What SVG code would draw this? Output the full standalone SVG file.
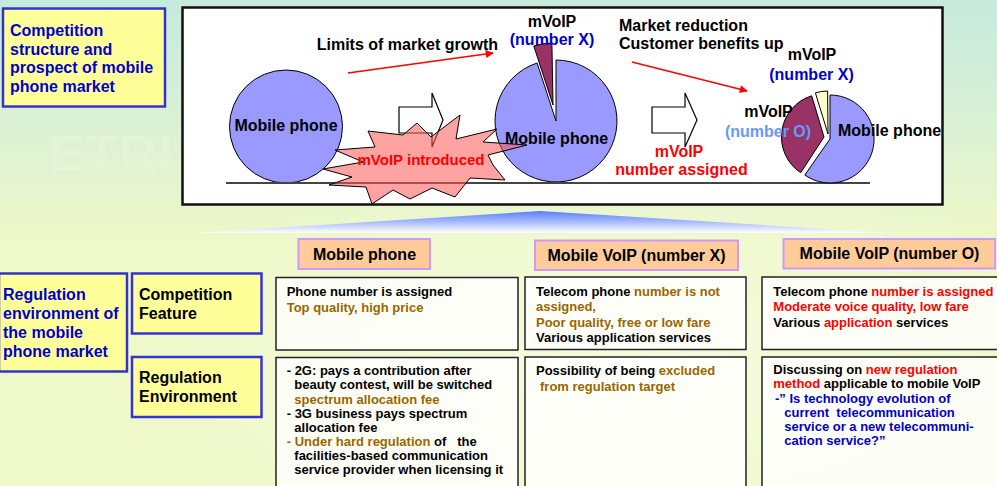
<svg xmlns="http://www.w3.org/2000/svg" width="997" height="486" viewBox="0 0 997 486">
  <defs>
    <linearGradient id="bg" x1="0" y1="0" x2="0" y2="1">
      <stop offset="0" stop-color="#c6eadc"/>
      <stop offset="0.23" stop-color="#d9f0d6"/>
      <stop offset="0.5" stop-color="#eef8c8"/>
      <stop offset="1" stop-color="#eff9c8"/>
    </linearGradient>
    <linearGradient id="beam" x1="0" y1="0" x2="0" y2="1">
      <stop offset="0" stop-color="#5a7cff"/>
      <stop offset="0.5" stop-color="#a9bbff"/>
      <stop offset="1" stop-color="#ffffff" stop-opacity="0.9"/>
    </linearGradient>
    <radialGradient id="glow" cx="0.5" cy="0.5" r="0.5">
      <stop offset="0" stop-color="#ffffff" stop-opacity="0.45"/>
      <stop offset="1" stop-color="#ffffff" stop-opacity="0"/>
    </radialGradient>
    <marker id="redArrow" viewBox="0 0 10 10" refX="9" refY="5" markerUnits="userSpaceOnUse" markerWidth="10" markerHeight="8" orient="auto">
      <path d="M0,0 L10,5 L0,10 Z" fill="#ff0000"/>
    </marker>
    <style>
      text { font-family: "Liberation Sans", Arial, sans-serif; font-weight: bold; white-space: pre; }
      .t16 { font-size: 16px; }
      .t13 { font-size: 13px; }
      .blk { fill: #000000; }
      .blu { fill: #0000cc; }
      .lblu { fill: #6699ff; }
      .red { fill: #ff0000; }
      .gold { fill: #996600; }
      .lbox { fill: #ffff99; stroke: #3333cc; stroke-width: 2.5; }
      .hdr { fill: #ffcc99; stroke: #cc99ff; stroke-width: 2; }
      .cell { fill: #ffffff; fill-opacity: 0.8; stroke: #222222; stroke-width: 1.5; }
      .pie { stroke: #000000; stroke-width: 1; }
      .barrow { fill: #ffffff; stroke: #000000; stroke-width: 1.2; }
      .conn { stroke: #ff0000; stroke-width: 1.5; fill: none; }
    </style>
  </defs>

  <!-- background -->
  <rect x="0" y="0" width="997" height="486" fill="url(#bg)"/>
  <ellipse cx="620" cy="370" rx="520" ry="200" fill="url(#glow)"/>
  <text x="48" y="171" font-size="50" fill="#ffffff" fill-opacity="0.15" textLength="125" lengthAdjust="spacingAndGlyphs">ETRI</text>

  <!-- left label boxes -->
  <g id="label-competition-structure">
    <rect class="lbox" x="3" y="8.5" width="162" height="98"/>
    <text class="t16 blu" x="10" y="36">Competition</text>
    <text class="t16 blu" x="10" y="54.7">structure and</text>
    <text class="t16 blu" x="10" y="73.4">prospect of mobile</text>
    <text class="t16 blu" x="10" y="92.2">phone market</text>
  </g>

  <!-- top panel -->
  <g id="market-panel">
    <rect x="182.5" y="7.5" width="760" height="197" fill="#ffffff" stroke="#111111" stroke-width="2.5"/>
  </g>

  <g id="pie-mobile-only">
    <circle class="pie" cx="286" cy="126.5" r="56.5" fill="#9999ff"/>
    <text class="t16 blk" x="286" y="131" text-anchor="middle">Mobile phone</text>
  </g>

  <g id="block-arrow-1">
    <path class="barrow" d="M399,107 L432,107 L432,93 L443,120 L432,147 L432,133 L399,133 Z"/>
  </g>

  <g id="pie-mvoip-x">
    <path class="pie" d="M556,121 L556,60 A61,61 0 1 1 537.1,63 Z" fill="#9999ff"/>
    <path class="pie" d="M553,105 L533.8,46 A62,62 0 0 1 551.9,43 Z" fill="#993366"/>
  </g>

  <line x1="226" y1="183" x2="870" y2="183" stroke="#444444" stroke-width="2"/>

  <g id="burst-mvoip-introduced">
    <path d="M335,150 L375,147 L368,131 L403,135 L417,123 L431,137 L460,115 L456,139 L497,129 L483,142 L527,145 L488,155 L493,165 L505,180 L470,178 L455,197 L432,188 L410,199 L393,190 L372,204 L366,187 L329,185 L352,177 L323,169 L363,162 Z"
          fill="#ff5555" fill-opacity="0.55" stroke="#000000" stroke-width="1"/>
    <text x="421" y="165" font-size="15" text-anchor="middle" class="red">mVoIP introduced</text>
  </g>

  <text class="t16 blk" x="505" y="143.5">Mobile phone</text>
  <text class="t16 blk" x="552" y="26.5" text-anchor="middle">mVoIP</text>
  <text class="t16 blu" x="552" y="44.5" text-anchor="middle">(number X)</text>
  <text class="t16 blk" x="316.7" y="50">Limits of market growth</text>

  <g id="block-arrow-2">
    <path class="barrow" d="M652,107 L685,107 L685,93 L697,120 L685,147 L685,133 L652,133 Z"/>
    <text class="t16 red" x="679" y="157.3" text-anchor="middle">mVoIP</text>
    <text class="t16 red" x="681.5" y="175" text-anchor="middle">number assigned</text>
  </g>

  <text class="t16 blk" x="619" y="31">Market reduction</text>
  <text class="t16 blk" x="619" y="49.3">Customer benefits up</text>

  <g id="pie-mvoip-o">
    <path class="pie" d="M830,139 L830,95 A44,44 0 1 1 804.8,175 Z" fill="#9999ff"/>
    <path class="pie" d="M824,137 L800.7,172.7 A43,43 0 0 1 811.7,95.8 Z" fill="#993366"/>
    <path class="pie" d="M828,134 L815.4,92.9 A43,43 0 0 1 827.6,91 Z" fill="#ffffcc"/>
    <text class="t16 blk" x="838" y="136">Mobile phone</text>
    <text class="t16 blk" x="812" y="60" text-anchor="middle">mVoIP</text>
    <text class="t16 blu" x="811.5" y="80" text-anchor="middle">(number X)</text>
    <text class="t16 blk" x="768.5" y="117.3" text-anchor="middle">mVoIP</text>
    <text class="t16 lblu" x="768" y="137.3" text-anchor="middle">(number O)</text>
  </g>

  <!-- connectors -->
  <g id="connectors">
    <line class="conn" x1="348" y1="73" x2="493" y2="53" marker-end="url(#redArrow)"/>
    <line class="conn" x1="632" y1="62" x2="747" y2="91" marker-end="url(#redArrow)"/>
  </g>

  <!-- light beam -->
  <polygon points="540,211 891,233 195,233" fill="url(#beam)"/>

  <!-- lower section -->
  <g id="label-regulation-environment">
    <rect class="lbox" x="-1" y="273.5" width="128" height="98"/>
    <text class="t16 blu" x="3" y="300">Regulation</text>
    <text class="t16 blu" x="3" y="319">environment of</text>
    <text class="t16 blu" x="3" y="338">the mobile</text>
    <text class="t16 blu" x="3" y="357">phone market</text>
  </g>

  <g id="row-competition-feature">
    <rect class="lbox" x="132" y="273.5" width="129.5" height="60" style="stroke:#3333dd"/>
    <text class="t16 blk" x="139" y="300">Competition</text>
    <text class="t16 blk" x="139" y="318.5">Feature</text>
  </g>

  <g id="row-regulation-environment">
    <rect class="lbox" x="132" y="357" width="129.5" height="60" style="stroke:#3333dd"/>
    <text class="t16 blk" x="139" y="383.3">Regulation</text>
    <text class="t16 blk" x="139" y="401.7">Environment</text>
  </g>

  <g id="header-mobile-phone">
    <rect class="hdr" x="298.5" y="239" width="131.5" height="30"/>
    <text class="t16 blk" x="364.5" y="259.5" text-anchor="middle">Mobile phone</text>
  </g>
  <g id="header-mvoip-x">
    <rect class="hdr" x="535" y="240.5" width="203" height="29.5"/>
    <text class="t16 blk" x="636.5" y="260.5" text-anchor="middle">Mobile VoIP (number X)</text>
  </g>
  <g id="header-mvoip-o">
    <rect class="hdr" x="783.5" y="239" width="211.5" height="29.5"/>
    <text class="t16 blk" x="889.5" y="259" text-anchor="middle">Mobile VoIP (number O)</text>
  </g>

  <g id="cell-mobile-competition">
    <rect class="cell" x="276" y="277.5" width="242" height="72.5"/>
    <text class="t13 blk" x="286.7" y="295.5">Phone number is assigned</text>
    <text class="t13 gold" x="286.7" y="311.7">Top quality, high price</text>
  </g>
  <g id="cell-mobile-regulation">
    <rect class="cell" x="276" y="357.5" width="242" height="140"/>
    <text class="t13 blk" x="286.7" y="375">- 2G: pays a contribution after</text>
    <text class="t13 blk" x="294.3" y="389.3">beauty contest, will be switched</text>
    <text class="t13 gold" x="294.3" y="403.5">spectrum allocation fee</text>
    <text class="t13 blk" x="286.7" y="417.7">- 3G business pays spectrum</text>
    <text class="t13 blk" x="294.3" y="431.8">allocation fee</text>
    <text class="t13" x="286.7" y="446"><tspan class="gold">- Under hard regulation</tspan><tspan class="blk"> of   the</tspan></text>
    <text class="t13 blk" x="294.3" y="460.2">facilities-based communication</text>
    <text class="t13 blk" x="294.3" y="474.3">service provider when licensing it</text>
  </g>

  <g id="cell-mvoip-x-competition">
    <rect class="cell" x="525" y="277" width="221" height="72.5"/>
    <text class="t13" x="536" y="295.7"><tspan class="blk">Telecom phone </tspan><tspan class="gold">number is not</tspan></text>
    <text class="t13 gold" x="536" y="311">assigned,</text>
    <text class="t13 gold" x="536" y="326.7">Poor quality, free or low fare</text>
    <text class="t13 blk" x="536" y="342.3">Various application services</text>
  </g>
  <g id="cell-mvoip-x-regulation">
    <rect class="cell" x="525" y="357" width="221" height="140"/>
    <text class="t13" x="536" y="375"><tspan class="blk">Possibility of being </tspan><tspan class="gold">excluded</tspan></text>
    <text class="t13 gold" x="540" y="390.7">from regulation target</text>
  </g>

  <g id="cell-mvoip-o-competition">
    <rect class="cell" x="762" y="277" width="240" height="72.5"/>
    <text class="t13" x="773.3" y="295.7"><tspan class="blk">Telecom phone </tspan><tspan class="red">number is assigned</tspan></text>
    <text class="t13 red" x="773.3" y="311">Moderate voice quality, low fare</text>
    <text class="t13" x="773.3" y="326.7"><tspan class="blk">Various </tspan><tspan class="red">application</tspan><tspan class="blk"> services</tspan></text>
  </g>
  <g id="cell-mvoip-o-regulation">
    <rect class="cell" x="762" y="357" width="240" height="140"/>
    <text class="t13" x="773.3" y="374"><tspan class="blk">Discussing on </tspan><tspan class="red">new regulation</tspan></text>
    <text class="t13" x="773.3" y="388.3"><tspan class="red">method</tspan><tspan class="blk"> applicable to mobile VoIP</tspan></text>
    <text class="t13 blu" x="775" y="402.7">-” Is technology evolution of</text>
    <text class="t13 blu" x="784.3" y="416.7">current  telecommunication</text>
    <text class="t13 blu" x="784.3" y="431">service or a new telecommuni-</text>
    <text class="t13 blu" x="784.3" y="445">cation service?”</text>
  </g>
</svg>
